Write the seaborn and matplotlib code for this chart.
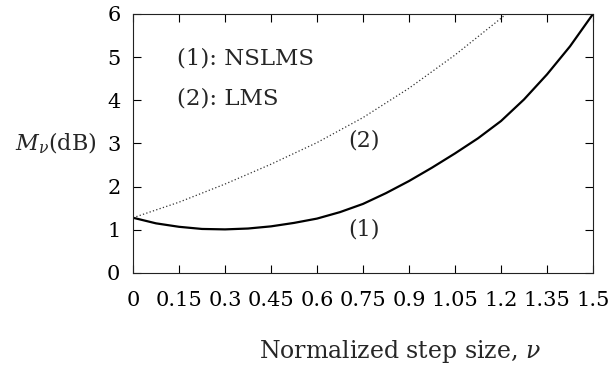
import matplotlib
matplotlib.use("Agg")
import matplotlib.pyplot as plt
import seaborn as sns
import pandas as pd

# Data
step_nslms = [0.0, 0.075, 0.15, 0.225, 0.3, 0.375, 0.45, 0.525, 0.6, 0.675, 0.75,
              0.825, 0.9, 0.975, 1.05, 1.125, 1.2, 1.275, 1.35, 1.425, 1.5]
mse_nslms = [1.28, 1.15, 1.07, 1.02, 1.01, 1.03, 1.08, 1.16, 1.26, 1.41, 1.6,
             1.85, 2.13, 2.44, 2.77, 3.12, 3.52, 4.02, 4.6, 5.25, 6.0]
step_lms = [0.0, 0.15, 0.3, 0.45, 0.6, 0.75, 0.9, 1.05, 1.2, 1.25]
mse_lms = [1.28, 1.64, 2.06, 2.52, 3.02, 3.6, 4.28, 5.05, 5.9, 6.2]
xticks = [0, 0.15, 0.3, 0.45, 0.6, 0.75, 0.9, 1.05, 1.2, 1.35, 1.5]
xticklabels = ["0", "0.15", "0.3", "0.45", "0.6", "0.75", "0.9", "1.05", "1.2", "1.35", "1.5"]
yticks = [0, 1, 2, 3, 4, 5, 6]

sns.set_style("ticks")
plt.rcParams["font.family"] = ["DejaVu Serif"]
plt.rcParams["mathtext.fontset"] = "dejavuserif"

df1 = pd.DataFrame({"nu": step_nslms, "M": mse_nslms})
df2 = pd.DataFrame({"nu": step_lms, "M": mse_lms})

fig = plt.figure(figsize=(6.14, 3.69), dpi=100)
ax = fig.add_axes([0.2166, 0.2602, 0.7492, 0.7019])

sns.lineplot(data=df1, x="nu", y="M", ax=ax, color="black", linewidth=1.6,
             solid_capstyle="round", solid_joinstyle="round")
sns.lineplot(data=df2, x="nu", y="M", ax=ax, color="#333333", linewidth=0.9,
             linestyle=(0, (1, 1.8)))

ax.set_xlim(0, 1.5)
ax.set_ylim(0, 6)
ax.set_xticks(xticks)
ax.set_xticklabels(xticklabels)
ax.set_yticks(yticks)
ax.tick_params(direction="in", length=6, width=0.8, top=True, right=True,
               labelsize=15, colors="black")
ax.tick_params(axis="x", pad=13)
ax.tick_params(axis="y", pad=9)
for s in ax.spines.values():
    s.set_visible(True)
    s.set_linewidth(0.8)
    s.set_color("#222222")

ax.set_xlabel(r"Normalized step size, $\nu$", fontsize=17, va="center")
ax.xaxis.set_label_coords(0.58, -0.305)
ax.set_ylabel(r"$M_\nu$(dB)", fontsize=16, rotation=0, va="center", ha="center")
ax.yaxis.set_label_coords(-0.168, 0.5)

ax.text(0.144, 4.98, "(1): NSLMS", fontsize=16.5, va="center", ha="left")
ax.text(0.144, 4.05, "(2): LMS", fontsize=16.5, va="center", ha="left")
ax.text(0.753, 3.08, "(2)", fontsize=16, va="center", ha="center")
ax.text(0.753, 1.0, "(1)", fontsize=16, va="center", ha="center")

fig.savefig("out.png", dpi=100)
